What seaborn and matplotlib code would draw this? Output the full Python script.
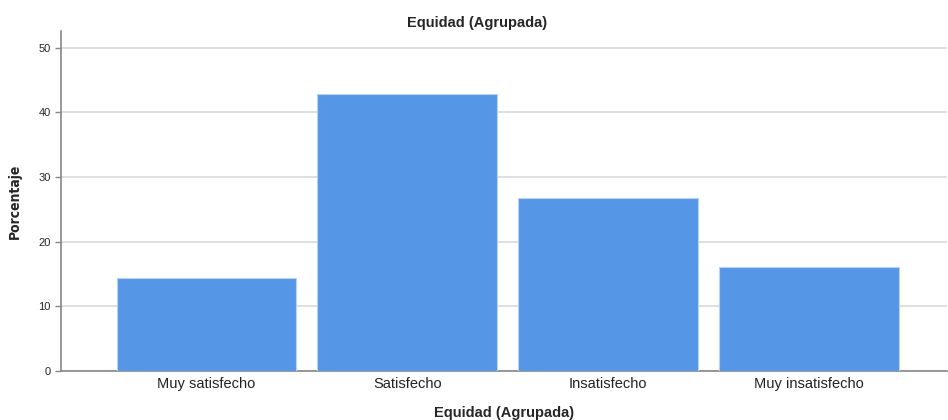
import matplotlib
matplotlib.use("Agg")
import matplotlib.pyplot as plt
import seaborn as sns
import pandas as pd

categorias = ["Muy satisfecho", "Satisfecho", "Insatisfecho", "Muy insatisfecho"]
porcentajes = [14.3, 42.9, 26.8, 16.1]
ticks_y = [0, 10, 20, 30, 40, 50]

df = pd.DataFrame({"categoria": categorias, "porcentaje": porcentajes})

sns.set_style("white")
plt.rcParams["font.family"] = ["Liberation Sans", "DejaVu Sans"]

fig = plt.figure(figsize=(9.48, 4.2), dpi=100)
ax = fig.add_axes([0.0643, 0.1167, 0.935, 0.81])

sns.barplot(data=df, x="categoria", y="porcentaje", color="#5596e6",
            width=0.895, edgecolor="#b8d2f2", linewidth=0.8, saturation=1, ax=ax, zorder=3)

ax.set_ylim(0, 52.6)
ax.set_xlim(-0.725, 3.69)
ax.set_yticks(ticks_y)
ax.yaxis.grid(True, color="#d9d9d9", linewidth=1.2, zorder=0)
ax.set_axisbelow(True)

for s in ["top", "right"]:
    ax.spines[s].set_visible(False)
ax.spines["left"].set_color("#888888")
ax.spines["bottom"].set_color("#888888")
ax.spines["left"].set_linewidth(1.2)
ax.spines["bottom"].set_linewidth(1.2)

ax.tick_params(axis="y", labelsize=8, length=4, color="#888888", width=1, left=True)
ax.tick_params(axis="x", labelsize=10.5, length=0, pad=4)
for t in ax.get_xticklabels():
    t.set_color("#222222")

ax.set_xlabel("Equidad (Agrupada)", fontsize=10.5, fontweight="bold", labelpad=11)
ax.set_ylabel("Porcentaje", fontsize=10, fontweight="bold", family="DejaVu Sans",
              fontstretch="condensed", labelpad=12)
ax.set_title("Equidad (Agrupada)", fontsize=10.5, fontweight="bold", pad=3,
             x=(477 / 948 - 0.0643) / 0.935)

fig.savefig("out.png", dpi=100)
